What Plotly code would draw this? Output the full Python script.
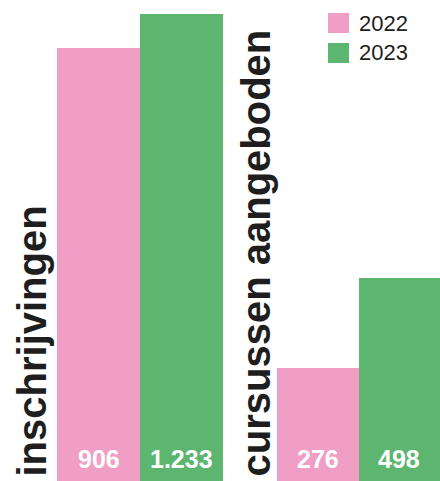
import plotly.graph_objects as go

# ---- data ----
years = ["2022", "2023"]
inschrijvingen = [906, 1233]
cursussen = [276, 498]
value_labels_1 = ["906", "1.233"]
value_labels_2 = ["276", "498"]
group_titles = ["inschrijvingen", "cursussen aangeboden"]

# ---- style ----
W, H = 440, 481
colors = {"2022": "#F09EC6", "2023": "#5CB66F"}
bar_colors = [colors[y] for y in years]
TEXT = "#1e1e1e"

def px_x(p):
    return p / W

def px_y(p):
    return 1 - p / H

fig = go.Figure()

fig.add_trace(go.Bar(x=years, y=inschrijvingen, marker=dict(color=bar_colors, line=dict(width=0)),
                     xaxis="x", yaxis="y", showlegend=False, hoverinfo="x+y"))
fig.add_trace(go.Bar(x=years, y=cursussen, marker=dict(color=bar_colors, line=dict(width=0)),
                     xaxis="x2", yaxis="y2", showlegend=False, hoverinfo="x+y"))

annotations = []
# value labels at the bottom of each bar (x given as category index)
for xr, yr, labels in (("x", "y domain", value_labels_1), ("x2", "y2 domain", value_labels_2)):
    for i, lab in enumerate(labels):
        annotations.append(dict(x=i, xref=xr, y=0, yref=yr, text=lab, showarrow=False,
                                xanchor="center", yanchor="middle", yshift=22,
                                font=dict(family="Liberation Sans, Arial", size=25, color="white", weight="bold")))

# rotated group titles
for title, xc in zip(group_titles, (31, 255)):
    annotations.append(dict(x=px_x(xc), xref="paper", y=0, yref="paper", text=title, textangle=-90,
                            showarrow=False, xanchor="center", yanchor="bottom", yshift=2,
                            font=dict(family="Liberation Sans, Arial", size=40, color=TEXT, weight="bold")))

# legend (manual, large swatches)
shapes = []
for i, yv in enumerate(years):
    top = 13 + 30 * i
    shapes.append(dict(type="rect", xref="paper", yref="paper",
                       x0=px_x(328), x1=px_x(349), y0=px_y(top + 20), y1=px_y(top),
                       fillcolor=colors[yv], line=dict(width=0)))
    annotations.append(dict(x=px_x(357), xref="paper", y=px_y(top + 10), yref="paper", text=yv,
                            showarrow=False, xanchor="left", yanchor="middle",
                            font=dict(family="Liberation Sans, Arial", size=22, color=TEXT)))

axis_off = dict(showgrid=False, zeroline=False, showline=False, showticklabels=False, ticks="", fixedrange=True)
fig.update_layout(
    width=W, height=H,
    margin=dict(l=0, r=0, t=0, b=0),
    paper_bgcolor="white", plot_bgcolor="white",
    bargap=0,
    showlegend=False,
    xaxis=dict(type="category", domain=[px_x(57), px_x(223)], anchor="y", range=[-0.5, 1.5], **axis_off),
    xaxis2=dict(type="category", domain=[px_x(277), 1], anchor="y2", range=[-0.5, 1.5], **axis_off),
    yaxis=dict(type="log", range=[1.267, 3.146], domain=[0, 1], anchor="x", **axis_off),
    yaxis2=dict(type="linear", range=[0, 1180], domain=[0, 1], anchor="x2", **axis_off),
    annotations=annotations,
    shapes=shapes,
)

fig.write_html("out.html", config={"displayModeBar": False},
               post_script="document.body.style.margin='0';document.body.style.overflow='hidden';")
